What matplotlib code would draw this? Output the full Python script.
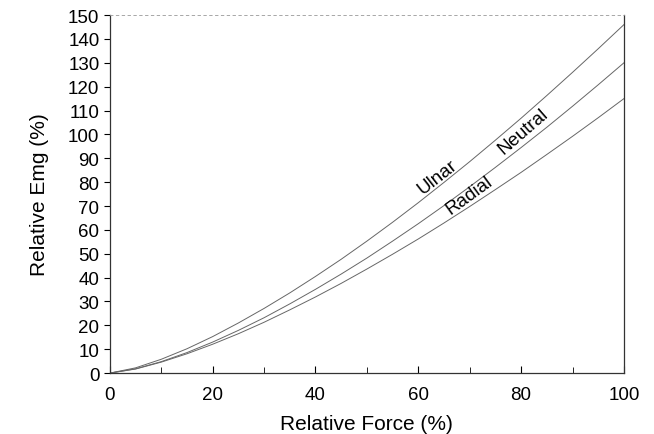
import matplotlib
matplotlib.use("Agg")
import matplotlib.pyplot as plt
from matplotlib.ticker import MultipleLocator

plt.rcParams['font.family'] = ['Liberation Sans', 'DejaVu Sans']

# values (relative force %, relative emg %)
force = [0, 5, 10, 15, 20, 25, 30, 35, 40, 45, 50,
         55, 60, 65, 70, 75, 80, 85, 90, 95, 100]
ulnar = [0, 2.2, 5.8, 10.2, 15.3, 21.0, 27.1, 33.6, 40.5, 47.7, 55.3,
         63.2, 71.4, 79.9, 88.6, 97.6, 106.8, 116.3, 126.0, 135.9, 146.0]
neutral = [0, 1.8, 4.8, 8.6, 13.0, 17.9, 23.2, 29.0, 35.1, 41.5, 48.2,
           55.3, 62.6, 70.2, 78.1, 86.2, 94.5, 103.0, 111.8, 120.8, 130.0]
radial = [0, 1.7, 4.6, 8.1, 12.1, 16.5, 21.3, 26.5, 31.9, 37.6, 43.6,
          49.8, 56.2, 62.9, 69.8, 76.9, 84.1, 91.6, 99.2, 107.0, 115.0]

fig = plt.figure(figsize=(6.54, 4.35), dpi=100)
ax = fig.add_axes([0.168, 0.140, 0.786, 0.823])

for ys in (ulnar, neutral, radial):
    ax.plot(force, ys, color='#666666', lw=0.7)

ax.text(63.8, 82.5, 'Ulnar', rotation=38, ha='center', va='center', fontsize=13.5)
ax.text(80.4, 101.4, 'Neutral', rotation=41, ha='center', va='center', fontsize=13.5)
ax.text(70.0, 74.6, 'Radial', rotation=36, ha='center', va='center', fontsize=13.5)

ax.set_xlim(0, 100)
ax.set_ylim(0, 150)
ax.xaxis.set_major_locator(MultipleLocator(20))
ax.xaxis.set_minor_locator(MultipleLocator(10))
ax.yaxis.set_major_locator(MultipleLocator(10))
ax.tick_params(axis='x', which='both', direction='in', length=4, labelsize=13.5, pad=9)
ax.tick_params(axis='y', direction='out', length=4, labelsize=13.5)
ax.tick_params(axis='x', which='major', length=5)

for s in ('left', 'bottom', 'right'):
    ax.spines[s].set_color('#333333')
    ax.spines[s].set_linewidth(0.9)
ax.spines['top'].set_color('#999999')
ax.spines['top'].set_linewidth(0.6)
ax.spines['top'].set_linestyle((0, (3, 4)))

ax.set_xlabel('Relative Force (%)', fontsize=15, labelpad=8)
ax.set_ylabel('Relative Emg (%)', fontsize=15, labelpad=14)

fig.savefig('out.png', dpi=100)
